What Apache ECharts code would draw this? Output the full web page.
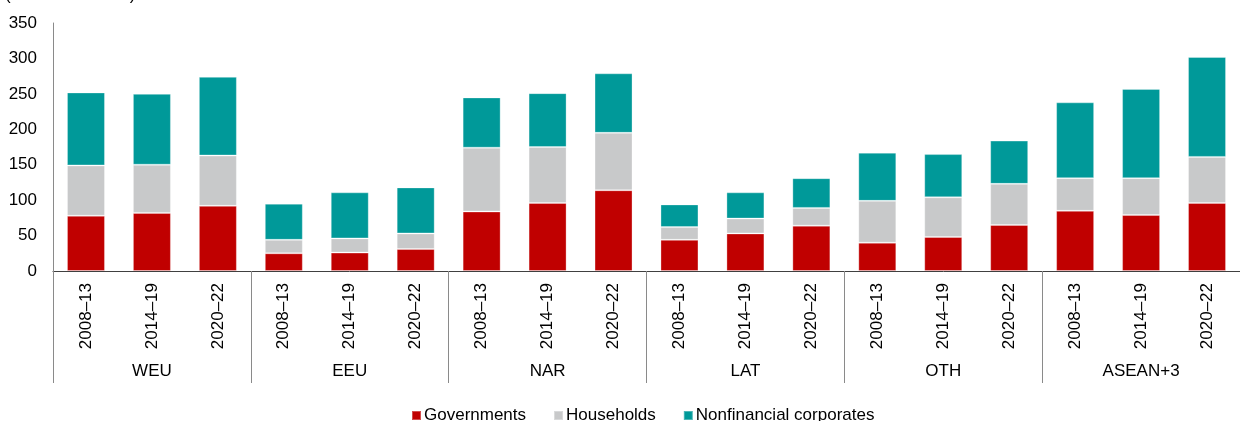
<!DOCTYPE html>
<html lang="en">
<head>
    <meta charset="UTF-8">
    <script src="https://cdn.jsdelivr.net/npm/echarts@6/dist/echarts.min.js"></script>
    <title>Debt by sector</title>
    <style>
        html, body { margin: 0; padding: 0; background: #ffffff; }
        #chart { width: 1240px; height: 421px; }
    </style>
</head>
<body>
    <div id="chart"></div>
    <script>
        var regions = ['WEU', 'EEU', 'NAR', 'LAT', 'OTH', 'ASEAN+3'];
        var periods = ['2008–13', '2014–19', '2020–22'];
        var yTicks = [0, 50, 100, 150, 200, 250, 300, 350];

        var governments = [78, 82, 92, 25, 26, 31, 84, 96, 114, 44, 53, 64, 40, 48, 65, 85, 79, 96];
        var households = [71, 68, 71, 19, 20, 22, 90, 79, 81, 18, 21, 25, 59, 56, 58, 46, 52, 65];
        var corporates = [103, 100, 111, 51, 65, 65, 71, 76, 84, 32, 37, 42, 68, 61, 61, 107, 126, 141];

        var categories = [];
        regions.forEach(function () {
            periods.forEach(function (p) { categories.push(p); });
        });

        var font = '"Liberation Sans", Arial, sans-serif';
        var chart = echarts.init(document.getElementById('chart'));

        function barSeries(name, data, color) {
            return {
                name: name,
                type: 'bar',
                stack: 'total',
                data: data,
                barWidth: 38,
                itemStyle: { color: color, borderColor: 'rgba(255,255,255,0.3)', borderWidth: 1 }
            };
        }

        chart.setOption({
            animation: false,
            textStyle: { fontFamily: font, color: '#000' },
            title: {
                text: '(Percent of GDP)',
                left: 0,
                top: -18,
                textStyle: { fontFamily: font, fontSize: 17, fontWeight: 'normal', color: '#000' }
            },
            grid: { left: 53, right: -7, top: 23, bottom: 150 },
            legend: {
                left: 406,
                top: 402,
                icon: 'rect',
                itemWidth: 9,
                itemHeight: 9,
                itemGap: 27,
                textStyle: { fontFamily: font, fontSize: 17, color: '#000', padding: [0, 0, 0, -2] },
                data: ['Governments', 'Households', 'Nonfinancial corporates']
            },
            xAxis: [{
                type: 'category',
                data: categories,
                axisLine: { lineStyle: { color: '#404040', width: 1 } },
                axisTick: {
                    show: true,
                    interval: function (i) { return i % 3 === 0; },
                    length: 112,
                    lineStyle: { color: '#8a8a8a' }
                },
                axisLabel: { interval: 0, rotate: 90, margin: 12, fontSize: 17, color: '#000', fontFamily: font }
            }, {
                type: 'category',
                data: regions,
                position: 'bottom',
                axisLine: { show: false },
                axisTick: { show: false },
                axisLabel: { interval: 0, margin: 92, fontSize: 17, color: '#000', fontFamily: font }
            }],
            yAxis: {
                type: 'value',
                min: yTicks[0],
                max: yTicks[yTicks.length - 1],
                interval: 50,
                splitLine: { show: false },
                axisTick: { show: false },
                axisLine: { show: true, lineStyle: { color: '#8a8a8a' } },
                axisLabel: { margin: 16, fontSize: 17, color: '#000', fontFamily: font }
            },
            series: [
                barSeries('Governments', governments, '#c00000'),
                barSeries('Households', households, '#c8c9ca'),
                barSeries('Nonfinancial corporates', corporates, '#009999')
            ]
        });
    </script>
</body>
</html>
